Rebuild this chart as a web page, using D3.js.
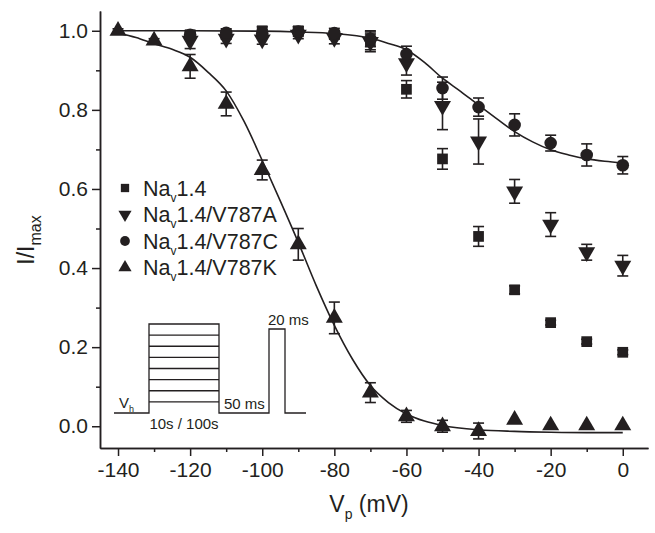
<!DOCTYPE html>
<html>
<head>
<meta charset="utf-8">
<script src="https://cdn.jsdelivr.net/npm/d3@7"></script>
<style>
  body { margin: 0; background: #fff; }
  text { font-family: "Liberation Sans", Arial, Helvetica, sans-serif; fill: #231f20; }
</style>
</head>
<body>
<div id="chart"></div>
<script>
// prepulse voltages (mV)
const voltages = [-140, -130, -120, -110, -100, -90, -80, -70, -60, -50, -40, -30, -20, -10, 0];

// I/Imax per construct, null = no point
const nav14 = [null, null, 0.99, 0.99, 1.0, 1.0, 0.99, 0.972, 0.852, 0.676, 0.48, 0.345, 0.262, 0.214, 0.187];
const nav14Err = [null, null, 0.01, 0.01, 0.01, 0.01, 0.01, 0.025, 0.022, 0.026, 0.025, 0.01, 0.006, 0.006, 0.006];

const v787A = [null, null, 0.975, 0.98, 0.978, 0.99, 0.982, 0.972, 0.918, 0.81, 0.72, 0.594, 0.51, 0.44, 0.406];
const v787AErr = [null, null, 0.02, 0.012, 0.012, 0.01, 0.015, 0.02, 0.03, 0.06, 0.057, 0.03, 0.03, 0.02, 0.026];

const v787C = [null, null, 0.99, 0.995, 0.993, 0.998, 0.994, 0.98, 0.941, 0.855, 0.807, 0.762, 0.716, 0.686, 0.66];
const v787CErr = [null, null, 0.01, 0.01, 0.01, 0.012, 0.012, 0.02, 0.02, 0.028, 0.023, 0.028, 0.02, 0.028, 0.022];

const v787K = [1.0, 0.975, 0.91, 0.815, 0.648, 0.46, 0.274, 0.085, 0.025, 0.0, -0.012, 0.016, 0.002, 0.002, 0.002];
const v787KErr = [0.005, 0.005, 0.03, 0.03, 0.025, 0.04, 0.04, 0.025, 0.015, 0.015, 0.02, 0, 0, 0, 0];

// fitted curves
const fitCV = [-140, -120, -100, -90, -80, -70, -65, -60, -55, -50, -45, -40, -35, -30, -25, -20, -15, -10, -5, 0];
const fitC = [1.0, 1.0, 0.999, 0.997, 0.993, 0.981, 0.968, 0.952, 0.92, 0.88, 0.847, 0.812, 0.778, 0.745, 0.719, 0.699, 0.686, 0.676, 0.67, 0.666];
const fitKV = [-140, -135, -130, -125, -120, -115, -110, -105, -100, -95, -90, -85, -80, -75, -70, -65, -60, -55, -50, -40, -30, -20, -10, 0];
const fitK = [0.994, 0.983, 0.967, 0.953, 0.933, 0.895, 0.848, 0.77, 0.672, 0.57, 0.465, 0.355, 0.255, 0.17, 0.103, 0.06, 0.031, 0.013, 0.002, -0.009, -0.013, -0.015, -0.016, -0.016];

const xMajor = [-140, -120, -100, -80, -60, -40, -20, 0];
const xMinor = [-130, -110, -90, -70, -50, -30, -10];
const yMajor = [0.0, 0.2, 0.4, 0.6, 0.8, 1.0];
const yMinor = [0.1, 0.3, 0.5, 0.7, 0.9];

const ink = "#231f20";
const width = 655, height = 533;

const svg = d3.select("#chart").append("svg")
  .attr("width", width)
  .attr("height", height);

const x = d3.scaleLinear().domain([-145, 7]).range([100, 648]);
const y = d3.scaleLinear().domain([-0.055, 1.05]).range([448, 11]);

// axes
function styleAxis(g) {
  g.attr("font-size", 21).attr("font-family", "Liberation Sans, Arial, sans-serif");
  g.selectAll("path, line").attr("stroke", ink).attr("stroke-width", 1.5);
  g.selectAll("text").attr("fill", ink);
}

svg.append("g")
  .attr("transform", "translate(0," + y.range()[0] + ")")
  .call(d3.axisBottom(x).tickValues(xMinor).tickSize(4).tickSizeOuter(0).tickFormat(""))
  .call(styleAxis);
svg.append("g")
  .attr("transform", "translate(0," + y.range()[0] + ")")
  .call(d3.axisBottom(x).tickValues(xMajor).tickSize(8).tickSizeOuter(0).tickPadding(6).tickFormat(d => String(d)))
  .call(styleAxis);

svg.append("g")
  .attr("transform", "translate(" + x.range()[0] + ",0)")
  .call(d3.axisLeft(y).tickValues(yMinor).tickSize(4).tickSizeOuter(0).tickFormat(""))
  .call(styleAxis);
svg.append("g")
  .attr("transform", "translate(" + x.range()[0] + ",0)")
  .call(d3.axisLeft(y).tickValues(yMajor).tickSize(8).tickSizeOuter(0).tickPadding(4).tickFormat(d3.format(".1f")))
  .call(styleAxis);

// axis titles
const xt = svg.append("text")
  .attr("x", 369).attr("y", 512)
  .attr("text-anchor", "middle")
  .attr("font-size", 23);
xt.append("tspan").text("V");
xt.append("tspan").attr("font-size", 14).attr("dy", 7).text("p");
xt.append("tspan").attr("dy", -7).text(" (mV)");

const yt = svg.append("text")
  .attr("transform", "translate(34,240) rotate(-90)")
  .attr("text-anchor", "middle")
  .attr("font-size", 23);
yt.append("tspan").text("I/I");
yt.append("tspan").attr("font-size", 16).attr("dy", 7).text("max");

// fit lines
const line = d3.line()
  .x(d => x(d[0]))
  .y(d => y(d[1]))
  .curve(d3.curveMonotoneX);

svg.append("path")
  .datum(fitCV.map((v, i) => [v, fitC[i]]))
  .attr("fill", "none").attr("stroke", ink).attr("stroke-width", 1.6)
  .attr("d", line);
svg.append("path")
  .datum(fitKV.map((v, i) => [v, fitK[i]]))
  .attr("fill", "none").attr("stroke", ink).attr("stroke-width", 1.6)
  .attr("d", line);

// series
const series = [
  { name: "1.4", vals: nav14, err: nav14Err, sym: d3.symbolSquare, size: 115, rot: 0 },
  { name: "1.4/V787A", vals: v787A, err: v787AErr, sym: d3.symbolTriangle, size: 125, rot: 180 },
  { name: "1.4/V787C", vals: v787C, err: v787CErr, sym: d3.symbolCircle, size: 125, rot: 0 },
  { name: "1.4/V787K", vals: v787K, err: v787KErr, sym: d3.symbolTriangle, size: 125, rot: 0 }
];

const capW = 5.5;
series.forEach(s => {
  const pts = voltages.map((v, i) => ({ v: v, val: s.vals[i], e: s.err[i] })).filter(d => d.val !== null);
  const g = svg.append("g");
  const eb = g.selectAll("g.eb").data(pts.filter(d => d.e > 0)).join("g").attr("class", "eb")
    .attr("stroke", ink).attr("stroke-width", 1.6);
  eb.append("line")
    .attr("x1", d => x(d.v)).attr("x2", d => x(d.v))
    .attr("y1", d => y(d.val + d.e)).attr("y2", d => y(d.val - d.e));
  eb.append("line")
    .attr("x1", d => x(d.v) - capW).attr("x2", d => x(d.v) + capW)
    .attr("y1", d => y(d.val + d.e)).attr("y2", d => y(d.val + d.e));
  eb.append("line")
    .attr("x1", d => x(d.v) - capW).attr("x2", d => x(d.v) + capW)
    .attr("y1", d => y(d.val - d.e)).attr("y2", d => y(d.val - d.e));
  g.selectAll("path.pt").data(pts).join("path").attr("class", "pt")
    .attr("d", d3.symbol().type(s.sym).size(s.size))
    .attr("fill", ink)
    .attr("transform", d => "translate(" + x(d.v) + "," + y(d.val) + ") rotate(" + s.rot + ")");
});

// legend
const legend = svg.append("g");
series.forEach((s, i) => {
  const ly = 188 + i * 26.5;
  legend.append("path")
    .attr("d", d3.symbol().type(s.sym).size(s.size * 0.6))
    .attr("fill", ink)
    .attr("transform", "translate(125," + ly + ") rotate(" + s.rot + ")");
  const t = legend.append("text").attr("x", 143).attr("y", ly + 7.5).attr("font-size", 21.5);
  t.append("tspan").text("Na");
  t.append("tspan").attr("font-size", 12).attr("dy", 6).text("v");
  t.append("tspan").attr("dy", -6).text(s.name);
});

// pulse protocol inset
const inset = svg.append("g").attr("fill", "none").attr("stroke", ink).attr("stroke-width", 1.3);
const baseY = 413, topY = 324, stepX0 = 149, stepX1 = 219;
inset.append("path")
  .attr("d", "M114," + baseY + "H" + stepX0 + "V" + topY + "H" + stepX1 + "V" + baseY +
    "H269V329H285V" + baseY + "H306");
d3.range(1, 8).forEach(k => {
  const ly = topY + k * (baseY - topY) / 8;
  inset.append("line").attr("x1", stepX0).attr("x2", stepX1).attr("y1", ly).attr("y2", ly);
});
const it = svg.append("g").attr("font-size", 15);
const vh = it.append("text").attr("x", 119).attr("y", 408);
vh.append("tspan").text("V");
vh.append("tspan").attr("font-size", 9).attr("dy", 4).text("h");
it.append("text").attr("x", 224).attr("y", 409).text("50 ms");
it.append("text").attr("x", 184).attr("y", 429).attr("text-anchor", "middle").text("10s / 100s");
it.append("text").attr("x", 268).attr("y", 325).text("20 ms");
</script>
</body>
</html>
